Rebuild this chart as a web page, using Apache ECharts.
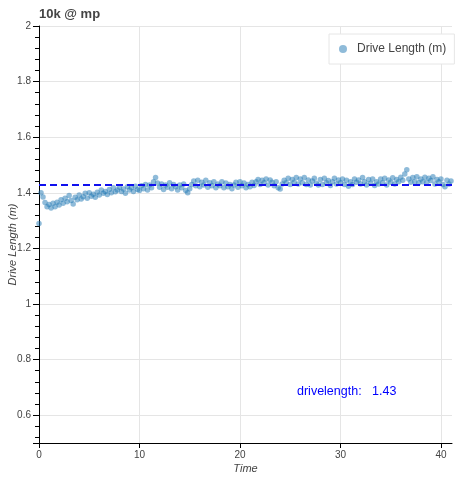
<!DOCTYPE html>
<html>
<head>
<meta charset="utf-8">
<script src="https://cdn.jsdelivr.net/npm/echarts@6/dist/echarts.min.js"></script>
<style>
html,body{margin:0;padding:0;background:#fff;}
#chart{width:456px;height:480px;}
</style>
</head>
<body>
<div id="chart"></div>
<script>
const chartTitle = '10k @ mp';
const seriesName = 'Drive Length (m)';
const xAxisName = 'Time';
const yAxisName = 'Drive Length (m)';
const annotationLabel = 'drivelength:   1.43';
const meanDriveLength = 1.43;
const timeStep = 0.2;
const xTickValues = [0, 10, 20, 30, 40];
const yTickValues = [0.6, 0.8, 1, 1.2, 1.4, 1.6, 1.8, 2];
const driveLength = [
  1.29, 1.40, 1.385, 1.365, 1.35, 1.358, 1.345, 1.362, 1.35, 1.366,
  1.356, 1.375, 1.362, 1.38, 1.368, 1.39, 1.372, 1.36, 1.384, 1.375,
  1.392, 1.378, 1.386, 1.398, 1.38, 1.40, 1.388, 1.395, 1.384, 1.402,
  1.392, 1.41, 1.398, 1.405, 1.394, 1.412, 1.40, 1.418, 1.404, 1.41,
  1.42, 1.405, 1.414, 1.398, 1.422, 1.41, 1.418, 1.405, 1.424, 1.412,
  1.408, 1.425, 1.415, 1.43, 1.41, 1.428, 1.418, 1.44, 1.455, 1.435,
  1.42, 1.432, 1.412, 1.428, 1.42, 1.436, 1.415, 1.43, 1.422, 1.41,
  1.428, 1.418, 1.432, 1.408, 1.40, 1.415, 1.43, 1.442, 1.425, 1.445,
  1.422, 1.438, 1.428, 1.445, 1.42, 1.436, 1.425, 1.44, 1.418, 1.432,
  1.425, 1.44, 1.418, 1.435, 1.422, 1.43, 1.415, 1.428, 1.438, 1.42,
  1.44, 1.425, 1.435, 1.418, 1.43, 1.422, 1.438, 1.426, 1.44, 1.448,
  1.43, 1.445, 1.436, 1.45, 1.428, 1.446, 1.438, 1.425, 1.44, 1.418,
  1.414, 1.432, 1.445, 1.436, 1.452, 1.43, 1.448, 1.438, 1.455, 1.432,
  1.45, 1.436, 1.455, 1.43, 1.446, 1.428, 1.442, 1.452, 1.434, 1.428,
  1.448, 1.43, 1.452, 1.436, 1.444, 1.426, 1.44, 1.452, 1.432, 1.446,
  1.436, 1.45, 1.43, 1.445, 1.424, 1.44, 1.43, 1.45, 1.438, 1.446,
  1.432, 1.455, 1.44, 1.428, 1.448, 1.434, 1.45, 1.426, 1.44, 1.432,
  1.45, 1.436, 1.452, 1.428, 1.446, 1.438, 1.454, 1.432, 1.448, 1.44,
  1.456, 1.445, 1.468, 1.483, 1.45, 1.438, 1.455, 1.44, 1.458, 1.436,
  1.45, 1.44, 1.456, 1.438, 1.452, 1.444, 1.458, 1.432, 1.448, 1.44,
  1.45, 1.43, 1.422, 1.445, 1.432, 1.442
];

const points = driveLength.map((v, i) => [+(i * timeStep).toFixed(2), v]);
const font = '"Liberation Sans", Arial, Helvetica, sans-serif';

const chart = echarts.init(document.getElementById('chart'), null, {renderer: 'canvas'});
chart.setOption({
  animation: false,
  backgroundColor: '#ffffff',
  title: {
    text: chartTitle,
    left: 34, top: 3,
    textStyle: {fontFamily: font, fontSize: 13, fontWeight: 'bold', color: '#444444'}
  },
  legend: {
    data: [seriesName],
    left: 329, top: 34,
    orient: 'vertical',
    backgroundColor: '#ffffff',
    borderColor: '#e6e6e6', borderWidth: 1, borderRadius: 0,
    padding: [9, 8, 9, 10],
    itemWidth: 8, itemHeight: 8,
    icon: 'circle',
    textStyle: {fontFamily: font, fontSize: 12, color: '#444444', padding: [0, 0, 0, 5]}
  },
  grid: {left: 39, right: 4, top: 26, bottom: 37, containLabel: false, outerBoundsMode: 'none'},
  xAxis: {
    type: 'value',
    min: 0, max: 41.1, interval: 10,
    name: xAxisName, nameLocation: 'middle', nameGap: 20, nameMoveOverlap: false,
    nameTextStyle: {fontFamily: font, fontSize: 11, fontStyle: 'italic', color: '#444444'},
    axisLine: {show: true, onZero: false, lineStyle: {color: '#000000', width: 1}},
    axisTick: {show: true, length: 5, lineStyle: {color: '#000000'}},
    axisLabel: {
      fontFamily: font, fontSize: 10, color: '#444444', margin: 7,
      showMaxLabel: false,
      formatter: v => xTickValues.includes(v) ? String(v) : ''
    },
    splitLine: {show: true, showMaxLine: false, lineStyle: {color: '#e5e5e5', width: 1}}
  },
  yAxis: {
    type: 'value',
    min: 0.5, max: 2, splitNumber: 7,
    name: yAxisName, nameLocation: 'middle', nameGap: 21, nameMoveOverlap: false,
    nameTextStyle: {fontFamily: font, fontSize: 11, fontStyle: 'italic', color: '#444444', padding: [0, 20, 0, 0]},
    axisLine: {show: true, lineStyle: {color: '#000000', width: 1}},
    axisTick: {show: true, length: 6, lineStyle: {color: '#000000'}},
    minorTick: {show: true, splitNumber: 5, length: 4, lineStyle: {color: '#000000'}},
    axisLabel: {
      fontFamily: font, fontSize: 10, color: '#444444', margin: 8,
      showMinLabel: false,
      formatter: v => yTickValues.some(t => Math.abs(t - v) < 1e-9) ? String(+v.toFixed(2)) : ''
    },
    splitLine: {show: true, showMinLine: false, lineStyle: {color: '#e5e5e5', width: 1}}
  },
  series: [{
    name: seriesName,
    type: 'scatter',
    data: points,
    symbol: 'circle',
    symbolSize: 5.5,
    itemStyle: {color: '#1f77b4', opacity: 0.5},
    markLine: {
      silent: true,
      symbol: ['none', 'none'],
      label: {show: false},
      lineStyle: {color: '#1010ee', type: [7, 4], width: 2, opacity: 1},
      data: [{yAxis: meanDriveLength}]
    }
  }],
  graphic: [{
    type: 'text',
    left: 297, top: 385,
    style: {text: annotationLabel, fill: '#0000ff', font: '12.5px ' + font}
  }]
});
</script>
</body>
</html>
